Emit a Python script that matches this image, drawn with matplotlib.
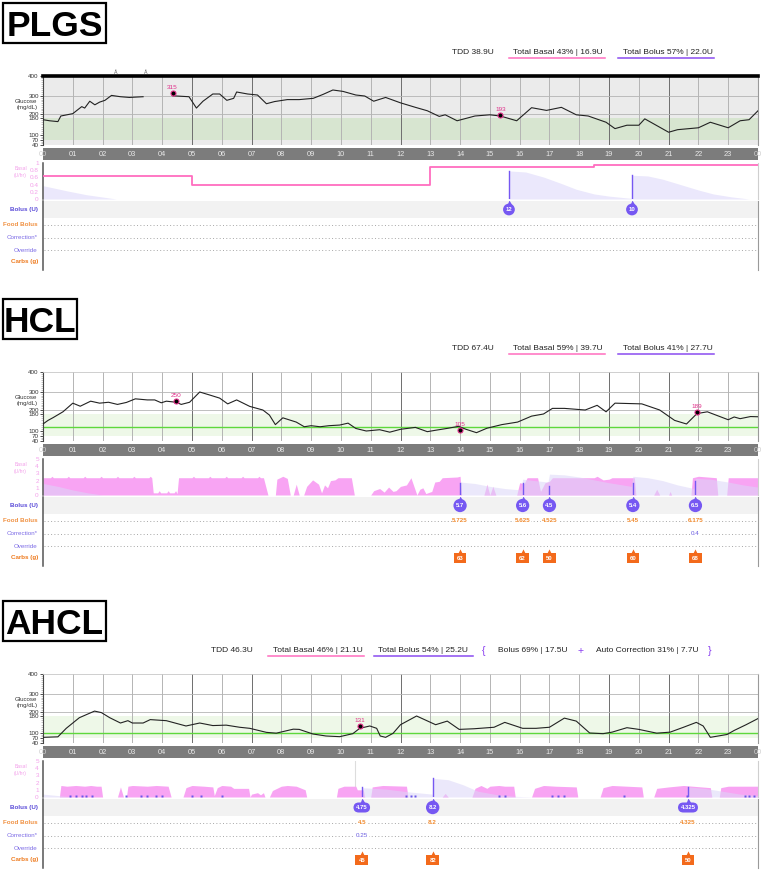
import matplotlib
matplotlib.use('Agg')
import matplotlib.pyplot as plt
import numpy as np
from matplotlib.patches import Rectangle
from matplotlib.lines import Line2D

plt.rcParams['font.family'] = ['Liberation Sans', 'DejaVu Sans']

W, H = 767, 874
X0, X1 = 43, 758

# ---------------- data ----------------
hours = list(range(25))
hour_labels = ['%02d' % (h % 24) for h in hours]
gl_ticks = [40, 70, 100, 180, 200, 300, 400]

# PLGS
plgs_t = [0, 0.22, 0.5, 0.6, 1.0, 1.3, 1.4, 1.57, 1.74, 1.9, 2.08, 2.3, 2.6, 2.9, 3.36,
          3.86, 4.36, 4.9, 5.15, 5.37, 5.7, 5.93, 6.17, 6.4, 6.5, 6.87, 7.2, 7.5, 7.77, 8.2,
          8.6, 9.07, 9.4, 9.73, 10.07, 10.5, 10.8, 11.1, 11.5, 12.0, 12.5, 12.9, 13.3, 13.5,
          13.9, 14.5, 15.0, 15.35, 15.9, 16.4, 16.9, 17.4, 17.9, 18.3, 18.9, 19.2, 19.6, 20.0,
          20.2, 21.0, 21.3, 22.0, 22.4, 23.0, 23.4, 23.7, 24.0]
plgs_g = [172, 167, 163, 190, 202, 241, 233, 271, 251, 266, 276, 303, 296, 292, 296,
          np.nan, 301, 296, 233, 271, 310, 310, 276, 287, 320, 310, 305, 257, 269, 280,
          280, 287, 308, 330, 323, 305, 300, 271, 292, 262, 237, 218, 188, 196,
          167, 190, 196, 190, 167, 235, 220, 237, 196, 190, 160, 130, 146, 146,
          176, 113, 125, 134, 160, 134, 167, 172, 218]
plgs_bg = [(4.35, 315), (15.35, 193)]
plgs_suspend = [2.45, 3.45]
plgs_basal_t = [0, 5, 13, 18.5, 24]
plgs_basal_v = [0.65, 0.4, 0.88, 0.94, 0.94]
plgs_iob = [(0, 0.37), (0.78, 0.23), (1.45, 0.12), (2.46, 0.0), (15.63, 0.0), (15.64, 0.78),
            (16.2, 0.75), (16.8, 0.61), (17.4, 0.43), (17.9, 0.27), (18.5, 0.14), (19.0, 0.08),
            (19.6, 0.03), (19.76, 0.02), (19.77, 0.66), (20.3, 0.64), (20.8, 0.55), (21.4, 0.4),
            (22.0, 0.25), (22.5, 0.14), (23.1, 0.06), (23.7, 0.0)]
plgs_bolus = [(15.64, '12', 0.78), (19.77, '10', 0.66)]

# HCL
hcl_t = [0, 0.17, 0.34, 0.67, 1.0, 1.25, 1.6, 1.9, 2.2, 2.5, 2.8, 3.1, 3.5, 3.75, 3.97,
         4.14, 4.47, 4.64, 4.92, 5.26, 5.6, 5.93, 6.2, 6.5, 6.94, 7.38, 7.6, 7.8, 8.05, 8.5,
         8.77, 9.0, 9.3, 9.6, 9.96, 10.24, 10.5, 10.85, 11.3, 11.64, 12.0, 12.5, 12.9, 13.2,
         13.6, 13.95, 14.2, 14.55, 14.9, 15.4, 15.93, 16.4, 16.8, 17.1, 17.5, 18.2, 18.6,
         18.9, 19.2, 20.1, 20.7, 21.2, 21.6, 21.95, 22.3, 22.7, 23.0, 23.2, 23.4, 23.75, 24.0]
hcl_g = [133, 150, 163, 191, 238, 221, 249, 238, 243, 231, 242, 262, 256, 256, 240,
         249, 243, 231, 243, 300, 283, 266, 234, 256, 220, 200, 175, 130, 162, 142,
         120, 125, 120, 125, 128, 137, 112, 100, 106, 93, 108, 117, 96, 104,
         113, 122, 108, 90, 113, 130, 142, 170, 180, 209, 209, 200, 226,
         191, 238, 234, 200, 150, 133, 182, 191, 169, 153, 166, 158, 168, 167]
hcl_bg = [(4.47, 250), (14.0, 105), (21.95, 189)]
hcl_basal = [(0.0, 2.4), (0.25, 2.4), (0.3, 2.6), (0.35, 2.4), (0.8, 2.4), (0.85, 2.6), (0.9, 2.4),
             (1.35, 2.4), (1.4, 2.6), (1.45, 2.4), (1.9, 2.4), (1.95, 2.6), (2.0, 2.4), (2.45, 2.4),
             (2.5, 2.6), (2.55, 2.4), (3.0, 2.4), (3.05, 2.6), (3.1, 2.4), (3.55, 2.4), (3.6, 2.6),
             (3.65, 2.4), (3.7, 0.3), (3.85, 0.3), (3.9, 0.6), (3.95, 0.3), (4.15, 0.3), (4.2, 0.6),
             (4.25, 0.3), (4.4, 0.3), (4.45, 0.6), (4.5, 0.2), (4.55, 2.4), (5.0, 2.4), (5.05, 2.6),
             (5.1, 2.4), (5.55, 2.4), (5.6, 2.6), (5.65, 2.4), (6.1, 2.4), (6.15, 2.6), (6.2, 2.4),
             (6.65, 2.4), (6.7, 2.6), (6.75, 2.4), (7.2, 2.4), (7.25, 2.6), (7.3, 2.4), (7.4, 2.4),
             (7.55, 0.0), (7.8, 0.0), (7.85, 2.2), (8.05, 2.6), (8.2, 2.3), (8.3, 0.0), (8.4, 0.0),
             (8.5, 1.5), (8.6, 0.0), (8.75, 0.0), (8.85, 1.2), (9.05, 2.1), (9.25, 1.5), (9.35, 0.3),
             (9.45, 1.4), (9.55, 1.0), (9.65, 2.0), (9.8, 2.1), (9.9, 2.4), (10.35, 2.4), (10.45, 0.0),
             (11.0, 0.0), (11.1, 0.6), (11.3, 0.9), (11.45, 0.4), (11.6, 1.1), (11.75, 0.5),
             (11.85, 0.6), (12.0, 1.2), (12.2, 1.4), (12.35, 2.4), (12.45, 1.2), (12.55, 0.0),
             (12.65, 0.8), (12.75, 1.0), (12.85, 0.2), (13.05, 0.5), (13.15, 1.8), (13.3, 1.9),
             (13.4, 2.4), (13.9, 2.5), (14.0, 2.6), (14.05, 0.0), (14.8, 0.0), (14.9, 1.5),
             (15.0, 0.0), (15.1, 1.2), (15.2, 0.0), (15.9, 0.0), (16.0, 1.7), (16.15, 1.6),
             (16.25, 2.4), (16.6, 2.4), (16.7, 0.5), (16.85, 1.7), (17.0, 1.9), (17.1, 2.4),
             (18.5, 2.4), (18.6, 2.6), (18.8, 2.1), (19.0, 2.2), (19.1, 2.4), (19.85, 2.4),
             (19.9, 0.0), (20.5, 0.0), (20.6, 0.8), (20.7, 0.0), (21.0, 0.0), (21.05, 0.5),
             (21.1, 0.0), (21.75, 0.0), (21.8, 2.4), (22.0, 2.6), (22.6, 2.4), (22.65, 0.0),
             (22.95, 0.0), (23.0, 2.4), (24.0, 2.4)]
hcl_iob = [(0, 1.6), (0.5, 1.2), (1.0, 0.7), (1.5, 0.3), (2.0, 0.0), (13.99, 0.0), (14.0, 1.8),
           (14.5, 1.6), (15.0, 1.2), (15.5, 0.9), (16.05, 0.7), (16.1, 2.2), (16.5, 2.0),
           (16.95, 1.8), (17.0, 2.9), (17.5, 2.8), (18.0, 2.5), (18.5, 2.1), (19.0, 1.7),
           (19.75, 1.2), (19.8, 2.6), (20.3, 2.4), (20.8, 2.0), (21.3, 1.4), (21.85, 0.9),
           (21.9, 2.3), (22.4, 2.2), (23.0, 1.8), (23.5, 1.4), (24.0, 1.1)]
hcl_bolus = [(14.0, '5.7', 1.7), (16.1, '5.6', 1.6), (17.0, '4.5', 1.3), (19.8, '5.4', 1.6),
             (21.9, '6.5', 1.9)]
hcl_food = [(14.0, '5.725'), (16.1, '5.625'), (17.0, '4.525'), (19.8, '5.45'), (21.9, '6.175')]
hcl_corr = [(21.9, '0.4')]
hcl_carbs = [(14.0, '63'), (16.1, '62'), (17.0, '50'), (19.8, '60'), (21.9, '68')]

# AHCL
ahcl_t = [0, 0.5, 0.78, 1.22, 1.73, 1.96, 2.24, 2.6, 2.85, 3.0, 3.36, 3.6, 4.14, 4.8, 5.26,
          5.7, 6.15, 6.6, 6.94, 7.5, 7.83, 8.4, 8.6, 9.06, 9.5, 9.96, 10.4, 10.63, 10.97, 11.2,
          11.32, 11.5, 11.75, 12.0, 12.54, 13.18, 13.57, 13.97, 14.47, 15.14, 15.5, 16.1, 16.55,
          17.0, 17.5, 17.9, 18.35, 18.8, 19.1, 19.6, 20.0, 20.6, 21.05, 21.5, 21.93, 22.16, 22.4,
          22.96, 23.2, 23.6, 24.0]
ahcl_g = [74, 77, 122, 172, 205, 197, 172, 147, 158, 147, 147, 163, 158, 133, 147,
          135, 137, 127, 122, 103, 99, 118, 117, 94, 82, 78, 96, 122, 133, 122,
          82, 74, 98, 139, 180, 139, 156, 117, 120, 127, 150, 122, 122,
          127, 170, 156, 100, 96, 104, 125, 117, 99, 104, 127, 150, 133, 74,
          91, 112, 139, 168]
ahcl_bg = [(10.63, 131)]
ahcl_basal = [(0.0, 0.0), (0.55, 0.0), (0.6, 1.6), (0.8, 1.5), (1.1, 1.6), (1.4, 1.5), (1.6, 1.6),
              (1.8, 1.5), (1.95, 1.5), (2.0, 0.0), (2.5, 0.0), (2.6, 1.4), (2.7, 0.0), (2.8, 0.0),
              (2.85, 1.5), (3.0, 1.6), (3.5, 1.5), (3.8, 1.6), (4.2, 1.5), (4.3, 0.0), (4.7, 0.0),
              (4.8, 1.3), (5.0, 1.6), (5.4, 1.5), (5.7, 1.4), (5.75, 0.2), (5.85, 1.3), (6.0, 1.6),
              (6.3, 1.5), (6.4, 1.2), (6.9, 1.2), (6.95, 0.0), (7.0, 0.4), (7.2, 0.6), (7.3, 0.3),
              (7.4, 0.6), (7.45, 0.0), (7.6, 0.0), (7.7, 0.9), (8.0, 1.5), (8.2, 1.6), (8.5, 1.5),
              (8.8, 1.0), (8.85, 0.0), (9.85, 0.0), (9.9, 1.2), (10.1, 1.5), (10.5, 1.5),
              (10.55, 1.0), (10.75, 1.0), (10.8, 0.0), (11.0, 0.0), (11.05, 1.4), (11.4, 1.6),
              (12.2, 1.5), (12.25, 0.0), (13.4, 0.0), (13.5, 0.5), (13.6, 0.0), (14.4, 0.0),
              (14.5, 1.2), (14.7, 1.6), (14.9, 1.2), (15.0, 1.5), (15.3, 1.6), (15.5, 1.5),
              (15.8, 1.5), (15.85, 0.0), (16.4, 0.0), (16.5, 1.2), (16.8, 1.6), (17.2, 1.5),
              (17.9, 1.4), (17.95, 0.0), (18.7, 0.0), (18.8, 1.3), (19.1, 1.6), (19.6, 1.5),
              (20.1, 1.4), (20.15, 0.0), (20.5, 0.0), (20.6, 1.2), (21.0, 1.4), (21.5, 1.6),
              (22.4, 1.3), (22.45, 0.0), (22.7, 0.0), (22.75, 1.3), (23.0, 1.5), (24.0, 1.5)]
ahcl_iob = [(0, 0.4), (0.5, 0.2), (1.0, 0.0), (10.69, 0.0), (10.7, 1.3), (11.5, 1.1), (12.3, 0.7),
            (13.07, 0.4), (13.08, 2.6), (13.6, 2.4), (14.1, 1.7), (14.6, 0.8), (15.2, 0.35),
            (15.8, 0.1), (16.5, 0.0), (21.64, 0.0), (21.65, 1.4), (22.2, 1.2), (22.8, 0.8),
            (23.4, 0.4), (24.0, 0.2)]
ahcl_micro = [0.9, 1.1, 1.3, 1.45, 1.65, 2.8, 3.3, 3.5, 3.8, 4.0, 5.0, 5.3, 6.0, 12.2, 12.35,
              12.5, 15.3, 15.5, 17.1, 17.3, 17.5, 19.5, 21.6, 23.55, 23.7, 23.85]
ahcl_bolus = [(10.7, '4.75', 1.4), (13.08, '8.2', 2.6), (21.65, '4.325', 1.4)]
ahcl_food = [(10.7, '4.5'), (13.08, '8.2'), (21.65, '4.325')]
ahcl_corr = [(10.7, '0.25')]
ahcl_carbs = [(10.7, '45'), (13.08, '82'), (21.65, '50')]

# ---------------- helpers ----------------
PINK = '#f8a4f3'
PINK_LINE = '#ff6dbf'
LAV = '#dcd6f8'
PURPLE = '#7658f2'
ORANGE = '#f08a2e'
CARB = '#f36a1b'
MARK = '#e0308a'

gl_px = [0, 5, 10, 27, 31, 49, 69]


def g_fwd(v):
    v = np.asarray(v, float)
    out = np.interp(v, gl_ticks, gl_px)
    out = np.where(v < 40, (v - 40) / 6.0, out)
    return np.where(v > 400, 69 + (v - 400) / 5.0, out)


def g_inv(p):
    p = np.asarray(p, float)
    out = np.interp(p, gl_px, gl_ticks)
    out = np.where(p < 0, 40 + p * 6.0, out)
    return np.where(p > 69, 400 + (p - 69) * 5.0, out)


fig = plt.figure(figsize=(W / 100, H / 100), dpi=100)


def add_ax(x0, y0, x1, y1):
    return fig.add_axes([x0 / W, 1 - y1 / H, (x1 - x0) / W, (y1 - y0) / H])


def ftext(x, y, s, **kw):
    return fig.text(x / W, 1 - y / H, s, **kw)


def fline(x0, x1, y, color, lw=1.2):
    fig.add_artist(Line2D([x0 / W, x1 / W], [1 - y / H, 1 - y / H], color=color, lw=lw,
                          transform=fig.transFigure))


def title_box(T, text, x1):
    fig.add_artist(Rectangle((3 / W, 1 - (T - 33) / H), (x1 - 3) / W, 40 / H,
                             transform=fig.transFigure, fill=False, ec='black', lw=1.6))
    ftext((3 + x1) / 2, T - 40.5, text, ha='center', va='baseline', fontsize=25.5,
          fontweight='bold')


def header(T, items):
    for x, s, color, ul in items:
        ftext(x, T - 23, s, ha='left', va='center', fontsize=6.0 if len(s) > 1 else 7.5,
              color=color)
        if ul is not None:
            fline(ul[0], ul[1], T - 17.7, ul[2], 1.1)


def glucose_panel(T, t, g, bg, plgs, target=None):
    ax = add_ax(X0, T, X1, T + 69)
    ax.set_xlim(0, 24)
    ax.set_yscale('function', functions=(g_fwd, g_inv))
    ax.set_ylim(40, 400)
    if plgs:
        ax.set_facecolor('#ebebeb')
        ax.axhspan(70, 180, color='#d7e5d0', lw=0, zorder=0)
    else:
        ax.set_facecolor('white')
        ax.axhspan(70, 180, color='#eef8e8', lw=0, zorder=0)
        ax.axhline(target, color='#5ed83c', lw=1.0, zorder=2)
    for h in range(1, 24):
        dark = h in (5, 7, 12, 19, 21)
        ax.axvline(h, color='#6e6e6e' if dark else '#b4b4b4', lw=0.7, zorder=1)
    for v in (200, 300):
        ax.axhline(v, color='#b4b4b4', lw=0.6, zorder=1)
    ax.plot(t, g, color='#222222', lw=0.8, zorder=3)
    for h, v in bg:
        ax.plot(h, v, 'o', ms=3.6, mfc='black', mec=MARK, mew=0.8, zorder=4)
        ax.annotate(str(v), (h, v), xytext=(0, 2.2), textcoords='offset points',
                    ha='center', va='bottom', fontsize=4.6, color=MARK, zorder=5)
    ax.set_xticks([])
    ax.set_yticks(gl_ticks)
    ax.set_yticklabels([str(v) for v in gl_ticks])
    ax.set_yticks(np.arange(40, 401, 10), minor=True)
    ax.tick_params(axis='y', which='major', labelsize=4.5, length=2, width=0.6, pad=1,
                   colors='#333333')
    ax.tick_params(axis='y', which='minor', length=1.2, width=0.4, color='#999999')
    ax.spines['bottom'].set_visible(False)
    ax.spines['left'].set_color('#444444')
    ax.spines['right'].set_color('#9a9a9a')
    ax.spines['right'].set_linewidth(0.8)
    if plgs:
        ax.spines['top'].set_color('black')
        ax.spines['top'].set_linewidth(2.6)
    else:
        ax.spines['top'].set_color('#c8c8c8')
        ax.spines['top'].set_linewidth(0.6)
    ftext(37, T + 25.3, 'Glucose', ha='right', va='center', fontsize=4.4, color='#333333')
    ftext(38, T + 31.3, '(mg/dL)', ha='right', va='center', fontsize=4.4, color='#333333')
    # hour band
    bx = add_ax(X0, T + 72, X1, T + 84)
    bx.set_facecolor('#7c7c7c')
    bx.set_xlim(0, 24)
    bx.set_ylim(0, 1)
    bx.set_xticks([])
    bx.set_yticks([])
    for s in bx.spines.values():
        s.set_visible(False)
    for h, lab in zip(hours, hour_labels):
        bx.text(h, 0.45, lab, ha='center', va='center', fontsize=5.3,
                color='#cfcfcf' if h in (0, 24) else '#e8e8e8', clip_on=False)
    return ax


def basal_panel(T, ymax, ticks, labels):
    ba = add_ax(X0, T + 87, X1, T + 123)
    ba.set_xlim(0, 24)
    ba.set_ylim(0, ymax)
    ba.set_xticks([])
    ba.set_yticks(ticks)
    ba.set_yticklabels(labels)
    ba.tick_params(axis='y', length=0, pad=3, labelsize=4.6, labelcolor='#f3a0ea')
    for s in ('top', 'bottom'):
        ba.spines[s].set_visible(False)
    ba.spines['left'].set_color('#555555')
    ba.spines['left'].set_linewidth(1.1)
    ba.spines['right'].set_color('#cfcfcf')
    ftext(27, T + 96, 'Basal\n(U/hr)', ha='right', va='center', fontsize=3.6,
          color='#f3a0ea', linespacing=1.4)
    return ba


def rows_panel(T):
    ro = add_ax(X0, T + 125, X1, T + 194)
    ro.set_xlim(0, 24)
    ro.set_ylim(69, 0)
    ro.axhspan(0, 17, color='#f2f2f2', lw=0, zorder=0)
    for y in (24, 36.5, 49):
        ro.plot([0.05, 23.95], [y, y], color='#a6a6a6', lw=0.7, ls=(0, (1, 2.4)), zorder=1)
    ro.set_xticks([])
    ro.set_yticks([])
    for s in ('top', 'bottom'):
        ro.spines[s].set_visible(False)
    ro.spines['left'].set_color('#555555')
    ro.spines['left'].set_linewidth(1.1)
    ro.spines['right'].set_color('#9a9a9a')
    rows = [('Bolus (U)', 8.5, '#5a4bd8', 'bold'), ('Food Bolus', 24, '#f09040', 'bold'),
            ('Correction*', 36.5, '#7c6be6', 'normal'), ('Override', 49, '#7c6be6', 'normal'),
            ('Carbs (g)', 61, '#ee7a1e', 'bold')]
    for s, y, c, wgt in rows:
        ftext(38, T + 125 + y, s, ha='right', va='center', fontsize=4.5, color=c,
              fontweight=wgt)
    return ro


def split(pairs):
    return [p[0] for p in pairs], [p[1] for p in pairs]


def boluses(ba, ro, bolus, food=(), corr=(), carbs=()):
    for h, lab, spike in bolus:
        ba.plot([h, h], [0, spike], color=PURPLE, lw=1.0, zorder=5)
        ro.plot(h, 1.4, marker='^', ms=3.6, color=PURPLE, mec='none', zorder=4)
        style = 'circle,pad=0.42' if len(lab) <= 3 else 'round,pad=0.42,rounding_size=0.9'
        ro.text(h, 8.5, lab, ha='center', va='center', fontsize=4.3, color='white',
                fontweight='bold', zorder=5, bbox=dict(boxstyle=style, fc=PURPLE, ec='none'))
    for h, lab in food:
        ro.text(h, 24, lab, ha='center', va='center', fontsize=4.5, color=ORANGE,
                fontweight='bold', zorder=3,
                bbox=dict(boxstyle='square,pad=0.1', fc='white', ec='none'))
    for h, lab in corr:
        ro.text(h, 36.5, lab, ha='center', va='center', fontsize=4.5, color='#6a5ce0',
                zorder=3, bbox=dict(boxstyle='square,pad=0.1', fc='white', ec='none'))
    for h, lab in carbs:
        ro.plot(h, 54, marker='^', ms=3.0, color=CARB, mec='none', zorder=4)
        ro.text(h, 61, lab, ha='center', va='center', fontsize=4.3, color='white',
                fontweight='bold', zorder=5,
                bbox=dict(boxstyle='square,pad=0.5', fc=CARB, ec='none'))


# ---------------- PLGS ----------------
T = 76
title_box(T, 'PLGS', 106)
header(T, [(452, 'TDD 38.9U', '#222222', None),
           (513, 'Total Basal 43% | 16.9U', '#222222', (509, 605, PINK_LINE)),
           (623, 'Total Bolus 57% | 22.0U', '#222222', (618, 714, '#8a4cf0'))])
ax = glucose_panel(T, plgs_t, plgs_g, plgs_bg, True)
for h in plgs_suspend:
    ax.text(h, 1.02, 'Å', transform=ax.get_xaxis_transform(), ha='center', va='bottom',
            fontsize=3.8, color='#666666', clip_on=False)
ba = basal_panel(T, 1.0, [0, 0.2, 0.4, 0.6, 0.8, 1.0], ['0', '0.2', '0.4', '0.6', '0.8', '1'])
it, iv = split(plgs_iob)
ba.fill_between(it, 0, iv, color='#ebe8fc', lw=0, zorder=1)
ba.step(plgs_basal_t, plgs_basal_v, where='post', color=PINK_LINE, lw=1.3, zorder=3)
ro = rows_panel(T)
boluses(ba, ro, plgs_bolus)

# ---------------- HCL ----------------
T = 372
title_box(T, 'HCL', 77)
header(T, [(452, 'TDD 67.4U', '#222222', None),
           (513, 'Total Basal 59% | 39.7U', '#222222', (509, 605, PINK_LINE)),
           (623, 'Total Bolus 41% | 27.7U', '#222222', (618, 714, '#8a4cf0'))])
glucose_panel(T, hcl_t, hcl_g, hcl_bg, False, target=120)
ba = basal_panel(T, 5, [0, 1, 2, 3, 4, 5], ['0', '1', '2', '3', '4', '5'])
bt, bv = split(hcl_basal)
ba.fill_between(bt, 0, bv, color=PINK, lw=0, zorder=1)
it, iv = split(hcl_iob)
ba.fill_between(it, 0, iv, color=LAV, alpha=0.55, lw=0, zorder=2)
ro = rows_panel(T)
boluses(ba, ro, hcl_bolus, hcl_food, hcl_corr, hcl_carbs)

# ---------------- AHCL ----------------
T = 674
title_box(T, 'AHCL', 106)
header(T, [(211, 'TDD 46.3U', '#222222', None),
           (273, 'Total Basal 46% | 21.1U', '#222222', (268, 364, PINK_LINE)),
           (378, 'Total Bolus 54% | 25.2U', '#222222', (374, 473, '#8a4cf0')),
           (482, '{', '#8a3ff0', None),
           (498, 'Bolus 69% | 17.5U', '#222222', None),
           (578, '+', '#8a3ff0', None),
           (596, 'Auto Correction 31% | 7.7U', '#222222', None),
           (708, '}', '#8a3ff0', None)])
glucose_panel(T, ahcl_t, ahcl_g, ahcl_bg, False, target=100)
ba = basal_panel(T, 5, [0, 1, 2, 3, 4, 5], ['0', '1', '2', '3', '4', '5'])
ba.axvline(10.47, color='#dddddd', lw=0.8, zorder=0)
bt, bv = split(ahcl_basal)
ba.fill_between(bt, 0, bv, color=PINK, lw=0, zorder=1)
it, iv = split(ahcl_iob)
ba.fill_between(it, 0, iv, color=LAV, alpha=0.55, lw=0, zorder=2)
ba.plot(ahcl_micro, [0.12] * len(ahcl_micro), ls='none', marker='s', ms=1.6,
        color='#6a58e8', mec='none', zorder=4, clip_on=False)
ro = rows_panel(T)
boluses(ba, ro, ahcl_bolus, ahcl_food, ahcl_corr, ahcl_carbs)

fig.savefig('out.png', dpi=100)
